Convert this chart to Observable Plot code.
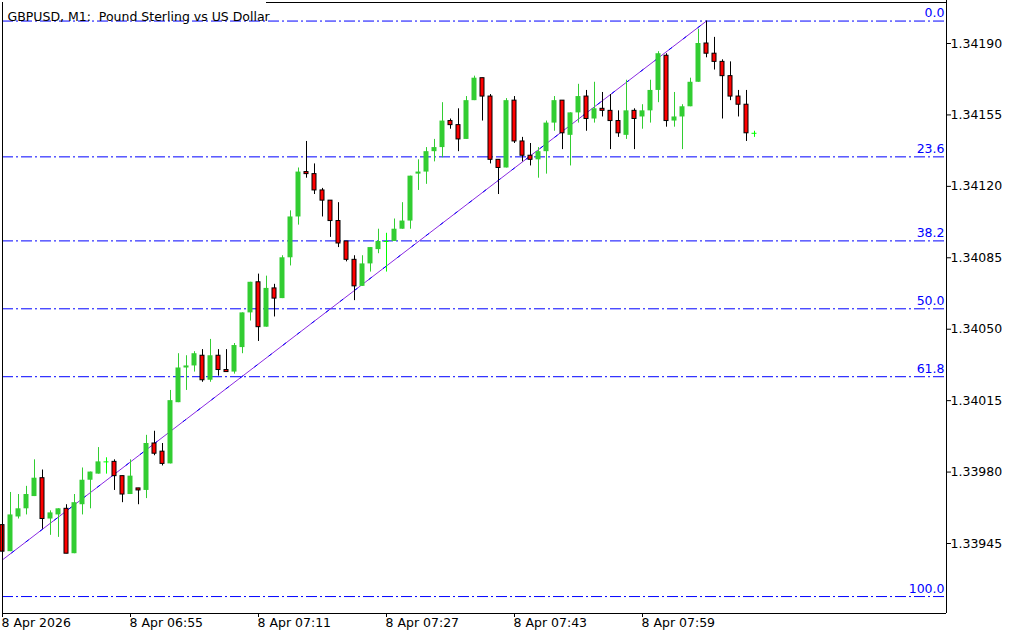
<!DOCTYPE html>
<html><head><meta charset="utf-8">
<script src="https://cdn.jsdelivr.net/npm/d3@7"></script>
<script src="https://cdn.jsdelivr.net/npm/@observablehq/plot@0.6"></script>
<style>html,body{margin:0;padding:0;background:#fff;} #chart svg{display:block;}</style>
</head><body><div id="chart"></div>
<script>
const title = "GBPUSD, M1:\u00a0 Pound Sterling vs US Dollar";
const startTime = "06:39"; // time of first visible candle, 1-minute candles

const open = [1.33954,1.33941,1.33958,1.33962,1.33968,1.33977,1.33957,1.33959,1.33962,1.33940,
1.33964,1.33976,1.33979,1.33985,1.33985,1.33978,1.33969,1.33972,1.33971,1.33994,
1.33990,1.33984,1.34014,1.34031,1.34032,1.34037,1.34025,1.34037,1.34030,1.34029,
1.34041,1.34058,1.34073,1.34051,1.34070,1.34065,1.34085,1.34105,1.34127,1.34126,
1.34118,1.34113,1.34103,1.34093,1.34084,1.34071,1.34082,1.34089,1.34093,1.34093,
1.34099,1.34103,1.34126,1.34127,1.34137,1.34139,1.34152,1.34150,1.34143,1.34162,
1.34173,1.34164,1.34133,1.34129,1.34162,1.34142,1.34135,1.34133,1.34137,1.34151,
1.34162,1.34145,1.34156,1.34164,1.34153,1.34158,1.34157,1.34152,1.34145,1.34157,
1.34154,1.34157,1.34167,1.34184,1.34152,1.34154,1.34159,1.34171,1.34190,1.34185,
1.34181,1.34174,1.34164,1.34160,1.34146];

const high = [1.33955,1.33970,1.33969,1.33973,1.33986,1.33981,1.33961,1.33962,1.33964,1.33969,
1.33982,1.33980,1.33992,1.33987,1.33986,1.33978,1.33986,1.33972,1.33998,1.34000,
1.33994,1.34020,1.34038,1.34037,1.34039,1.34040,1.34045,1.34040,1.34040,1.34043,
1.34058,1.34073,1.34077,1.34076,1.34072,1.34086,1.34108,1.34129,1.34142,1.34131,
1.34119,1.34113,1.34112,1.34093,1.34086,1.34086,1.34090,1.34099,1.34097,1.34104,
1.34112,1.34125,1.34133,1.34139,1.34143,1.34161,1.34153,1.34158,1.34164,1.34174,
1.34173,1.34165,1.34133,1.34163,1.34164,1.34144,1.34141,1.34139,1.34152,1.34164,
1.34162,1.34156,1.34170,1.34167,1.34171,1.34166,1.34165,1.34157,1.34172,1.34158,
1.34160,1.34172,1.34186,1.34185,1.34166,1.34160,1.34173,1.34197,1.34201,1.34193,
1.34182,1.34181,1.34167,1.34167,1.34147];

const low = [1.33940,1.33941,1.33957,1.33959,1.33968,1.33952,1.33949,1.33948,1.33940,1.33940,
1.33959,1.33962,1.33979,1.33979,1.33971,1.33965,1.33969,1.33964,1.33967,1.33988,
1.33983,1.33984,1.34014,1.34020,1.34029,1.34024,1.34024,1.34027,1.34029,1.34028,
1.34038,1.34054,1.34044,1.34051,1.34056,1.34065,1.34081,1.34101,1.34124,1.34116,
1.34105,1.34095,1.34090,1.34083,1.34064,1.34071,1.34078,1.34087,1.34078,1.34093,
1.34099,1.34099,1.34118,1.34121,1.34132,1.34134,1.34148,1.34137,1.34143,1.34162,
1.34152,1.34131,1.34116,1.34129,1.34141,1.34132,1.34130,1.34124,1.34126,1.34147,
1.34138,1.34130,1.34151,1.34147,1.34151,1.34154,1.34138,1.34144,1.34143,1.34138,
1.34148,1.34151,1.34161,1.34149,1.34149,1.34138,1.34159,1.34171,1.34183,1.34177,
1.34153,1.34162,1.34154,1.34142,1.34144];

const close = [1.33941,1.33959,1.33962,1.33969,1.33977,1.33957,1.33960,1.33962,1.33940,1.33965,
1.33976,1.33980,1.33985,1.33985,1.33978,1.33969,1.33978,1.33971,1.33994,1.33989,
1.33984,1.34015,1.34031,1.34032,1.34038,1.34025,1.34037,1.34030,1.34029,1.34042,
1.34058,1.34073,1.34051,1.34070,1.34065,1.34085,1.34105,1.34127,1.34126,1.34118,
1.34113,1.34103,1.34092,1.34084,1.34071,1.34082,1.34090,1.34093,1.34093,1.34099,
1.34103,1.34125,1.34127,1.34137,1.34139,1.34152,1.34150,1.34143,1.34162,1.34173,
1.34164,1.34133,1.34129,1.34162,1.34142,1.34135,1.34133,1.34137,1.34151,1.34162,
1.34146,1.34156,1.34164,1.34153,1.34158,1.34157,1.34152,1.34146,1.34157,1.34153,
1.34157,1.34167,1.34185,1.34152,1.34154,1.34159,1.34171,1.34190,1.34185,1.34181,
1.34174,1.34164,1.34160,1.34146,1.34146];

// Price axis ticks (right)
const priceTicks = [1.33945, 1.33980, 1.34015, 1.34050, 1.34085, 1.34120, 1.34155, 1.34190];
// Time axis ticks (bottom)
const tickTimes  = ["06:39", "06:55", "07:11", "07:27", "07:43", "07:59"];
const tickLabels = ["8 Apr 2026", "8 Apr 06:55", "8 Apr 07:11", "8 Apr 07:27", "8 Apr 07:43", "8 Apr 07:59"];

// Fibonacci retracement: anchors and levels
const fibStartTime = "06:33", fibStartPrice = 1.33919;
const fibEndTime = "08:07", fibEndPrice = 1.34201;
const fibLevels = [0, 23.6, 38.2, 50, 61.8, 100];

// visible window
const priceView = [1.339107, 1.3421009];
const slotView = [0, 118];
const titleSlots = 33; // the title label covers the top border over this many slots

const mins = t => { const [h, m] = t.split(":").map(Number); return h * 60 + m; };
const idx = t => mins(t) - mins(startTime);

const data = open.map((o, i) => ({
  i, open: o, high: high[i], low: low[i], close: close[i],
  kind: Math.abs(close[i] - o) < 1e-7 ? "doji" : (close[i] > o ? "bull" : "bear")
}));
const bull = data.filter(d => d.kind === "bull");
const bear = data.filter(d => d.kind === "bear");
const doji = data.filter(d => d.kind === "doji");

const fib = fibLevels.map(l => ({
  price: fibEndPrice - (l / 100) * (fibEndPrice - fibStartPrice),
  label: l.toFixed(1)
}));
const fibLine = [
  {i: idx(fibStartTime), price: fibStartPrice},
  {i: idx(fibEndTime), price: fibEndPrice}
];
const xTicks = tickTimes.map((t, k) => ({i: idx(t), label: tickLabels[k]}));

const GREEN = "#32cd32", RED = "#ff0000", DOJI = "#00ff00", BLUE = "#0000ff";

const chart = Plot.plot({
  width: 1024, height: 640,
  marginLeft: 2, marginRight: 78, marginTop: 2, marginBottom: 27,
  style: {fontFamily: "DejaVu Sans, sans-serif", fontSize: "12.5px", color: "#000", background: "#fff", overflow: "visible"},
  x: {type: "linear", domain: slotView, axis: "bottom", ticks: xTicks.map(d => d.i), tickSize: 4, tickFormat: () => "", label: null},
  y: {domain: priceView, axis: "right", ticks: priceTicks, tickSize: 4, tickPadding: 0, tickFormat: d3.format(".5f"), label: null},
  marks: [
    Plot.ruleY(fib, {y: "price", stroke: BLUE, strokeWidth: 1, strokeDasharray: "11,3,2,3"}),
    Plot.text(fib, {y: "price", text: "label", frameAnchor: "right", textAnchor: "end", dx: -2, dy: -8, fill: BLUE}),
    Plot.line(fibLine, {x: "i", y: "price", stroke: "#8a2be2", strokeWidth: 1, clip: true}),
    Plot.line(fibLine, {x: "i", y: "price", stroke: BLUE, strokeWidth: 1, strokeDasharray: "3,15", clip: true}),
    // wicks
    Plot.ruleX(bull, {x: "i", y1: "low", y2: "high", stroke: GREEN}),
    Plot.ruleX(bear, {x: "i", y1: "low", y2: "high", stroke: "#000"}),
    Plot.ruleX(doji, {x: "i", y1: "low", y2: "high", stroke: DOJI}),
    // bodies
    Plot.rect(bull, {x1: d => d.i - 0.5, x2: d => d.i + 0.5, y1: "open", y2: "close", insetLeft: 1.5, insetRight: 1.5, fill: GREEN}),
    Plot.rect(bear, {x1: d => d.i - 0.5, x2: d => d.i + 0.5, y1: "open", y2: "close", insetLeft: 2, insetRight: 2, fill: RED, stroke: "#000", strokeWidth: 1}),
    Plot.ruleY(doji, {y: "open", x1: d => d.i - 0.5, x2: d => d.i + 0.5, insetLeft: 1.5, insetRight: 1.5, stroke: DOJI}),
    // frame
    Plot.ruleX([slotView[0]], {stroke: "#000"}),
    Plot.ruleX([slotView[1]], {stroke: "#000", insetTop: -2}),
    Plot.ruleY([priceView[0]], {stroke: "#000"}),
    Plot.ruleY([priceView[1]], {x1: titleSlots, x2: slotView[1], stroke: "#000"}),
    // time labels
    Plot.text(xTicks, {x: "i", text: "label", frameAnchor: "bottom", textAnchor: "start", dx: -1, dy: 13, fill: "#000"}),
    // title
    Plot.text([title], {text: d => d, frameAnchor: "top-left", textAnchor: "start", dx: 5, dy: 10, fill: "#000"})
  ]
});
document.getElementById("chart").appendChild(chart);
</script>
</body></html>
